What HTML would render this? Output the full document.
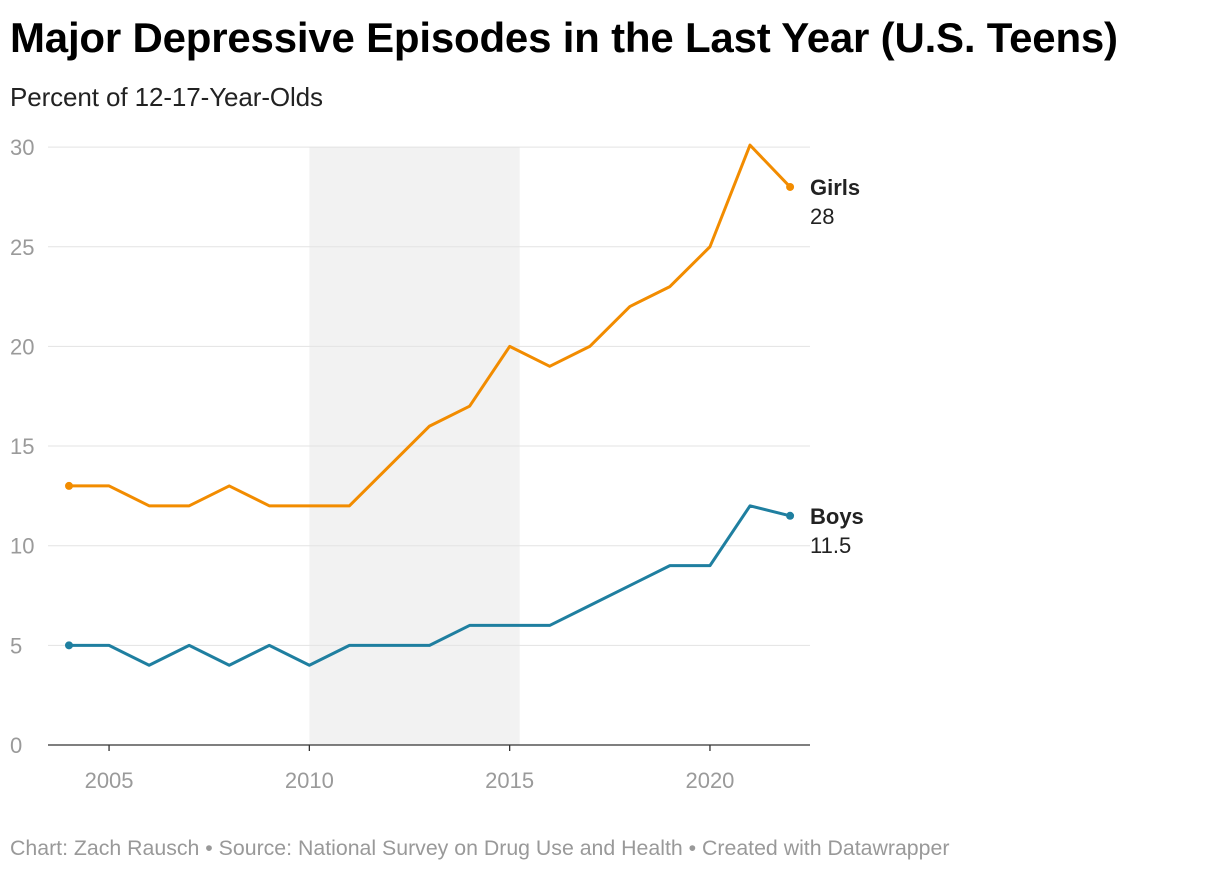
<!DOCTYPE html>
<html><head><meta charset="utf-8"><style>
body{margin:0;background:#fff;font-family:"Liberation Sans",sans-serif;}
#wrap{position:relative;width:1220px;height:872px;overflow:hidden}
h1{position:absolute;left:10px;top:14px;margin:0;font-size:42px;font-weight:bold;color:#000;letter-spacing:-0.2px}
.sub{position:absolute;left:10px;top:82px;font-size:26px;color:#222;letter-spacing:-0.1px}
.foot{position:absolute;left:10px;top:836px;font-size:21.3px;color:#999}
</style></head><body>
<div id="wrap">
<h1>Major Depressive Episodes in the Last Year (U.S. Teens)</h1>
<div class="sub">Percent of 12-17-Year-Olds</div>
<svg id="chart" width="1220" height="872" style="position:absolute;left:0;top:0"></svg>
<div class="foot">Chart: Zach Rausch • Source: National Survey on Drug Use and Health • Created with Datawrapper</div>
</div>
<script>
const years=[2004,2005,2006,2007,2008,2009,2010,2011,2012,2013,2014,2015,2016,2017,2018,2019,2020,2021,2022];
const girls=[13,13,12,12,13,12,12,12,14,16,17,20,19,20,22,23,25,30.1,28];
const boys=[5,5,4,5,4,5,4,5,5,5,6,6,6,7,8,9,9,12,11.5];
const yTicks=[0,5,10,15,20,25,30];
const xTicks=[2005,2010,2015,2020];
const shade=[2010,2015.25];
const NS="http://www.w3.org/2000/svg";
const svg=document.getElementById('chart');
const x=v=>69+(v-2004)*40.06;
const y=v=>745-v*19.93;
function mk(t,a){const e=document.createElementNS(NS,t);for(const k in a)e.setAttribute(k,a[k]);svg.appendChild(e);return e;}
let r=mk('rect',{x:x(shade[0]),y:y(30),width:x(shade[1])-x(shade[0]),height:y(0)-y(30),fill:'#f2f2f2'});


yTicks.forEach(t=>{
 if(t>0){const l=mk('line',{x1:48,x2:810,y1:y(t),y2:y(t),stroke:'#e3e3e3','stroke-width':1});
 
 }
 const tx=mk('text',{x:10,y:y(t)+8,'font-size':22,fill:'#9a9a9a'});tx.textContent=t;
 
 
});
const ax=mk('line',{x1:48,x2:810,y1:y(0),y2:y(0),stroke:'#333','stroke-width':1.3});


xTicks.forEach(t=>{
 const l=mk('line',{x1:x(t),x2:x(t),y1:y(0),y2:y(0)+6,stroke:'#333','stroke-width':1.3});
 
 
 const tx=mk('text',{x:x(t),y:788,'font-size':22,fill:'#9a9a9a','text-anchor':'middle'});tx.textContent=t;
 
 
});
function series(vals,col,name,label){
 const p=mk('polyline',{points:vals.map((v,i)=>x(years[i])+','+y(v)).join(' '),fill:'none',stroke:col,'stroke-width':3,'stroke-linejoin':'round'});
 
 
 [0,vals.length-1].forEach(i=>{const c=mk('circle',{cx:x(years[i]),cy:y(vals[i]),r:4,fill:col});
 
 });
 const last=vals[vals.length-1];
 const t1=mk('text',{x:810,y:y(last)+8,'font-size':22,'font-weight':'bold',fill:'#222'});t1.textContent=label;
 
 
 const t2=mk('text',{x:810,y:y(last)+37,'font-size':22,fill:'#222'});t2.textContent=last;
 
 
}
series(girls,'#f28c00','girls','Girls');
series(boys,'#1f7fa0','boys','Boys');
</script>
</body></html>
